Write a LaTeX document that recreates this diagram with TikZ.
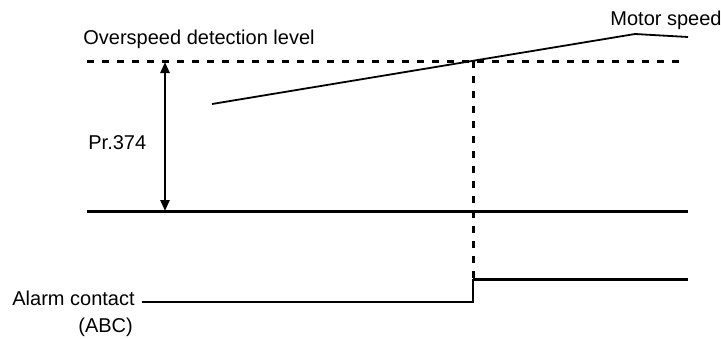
\documentclass[tikz,border=0pt]{standalone}
\usepackage{fontspec}
\setmainfont{Liberation Sans}
\usetikzlibrary{arrows.meta}
\tikzset{
  txt/.style={inner sep=0pt,anchor=base west,font=\fontsize{10}{12}\selectfont},
  levelline/.style={line width=1.5pt,dash pattern=on 3.5pt off 4pt},
  baseline/.style={line width=1.5pt},
  speedline/.style={line width=0.9pt},
  dimarrow/.style={{Triangle[length=5.5pt,width=4.5pt]}-{Triangle[length=5.5pt,width=4.5pt]},line width=1.2pt},
  lowsig/.style={line width=0.8pt},
  highsig/.style={line width=1.5pt}
}
\begin{document}
\begin{tikzpicture}[x=0.5pt,y=-0.5pt]
  \useasboundingbox (0,0) rectangle (721,338);
  % texts
  \node[txt] (lvltext) at (83,44) {Overspeed detection level};
  \node[txt] (mottext) at (610,25) {Motor speed};
  \node[txt] (prtext) at (88,149) {Pr.374};
  \node[txt] (almtext) at (12,305) {Alarm contact};
  \node[txt] (abctext) at (78,332) {(ABC)};
  % key points
  \coordinate (lvlL) at (87,61);
  \coordinate (lvlR) at (685,61);
  \coordinate (baseL) at (87,211);
  \coordinate (baseR) at (688,211);
  \coordinate (arrT) at (165,62);
  \coordinate (arrB) at (165,211);
  \coordinate (spdA) at (212,104);
  \coordinate (spdB) at (635,34);
  \coordinate (spdC) at (688,37);
  \coordinate (cross) at (473,61);
  \coordinate (stepT) at (473,279);
  \coordinate (stepB) at (473,302);
  \coordinate (almL) at (142,302);
  \coordinate (almR) at (688,279);
  % levels
  \draw[levelline] (lvlL) -- (lvlR);
  \draw[baseline] (baseL) -- (baseR);
  \draw[dimarrow] (arrT) -- (arrB);
  % motor speed
  \draw[speedline] (spdA) -- (spdB) -- (spdC);
  \draw[levelline] (cross) -- (stepT);
  % alarm signal
  \draw[lowsig] (almL) -- (stepB) -- (stepT);
  \draw[highsig] (stepT) -- (almR);
\end{tikzpicture}
\end{document}
